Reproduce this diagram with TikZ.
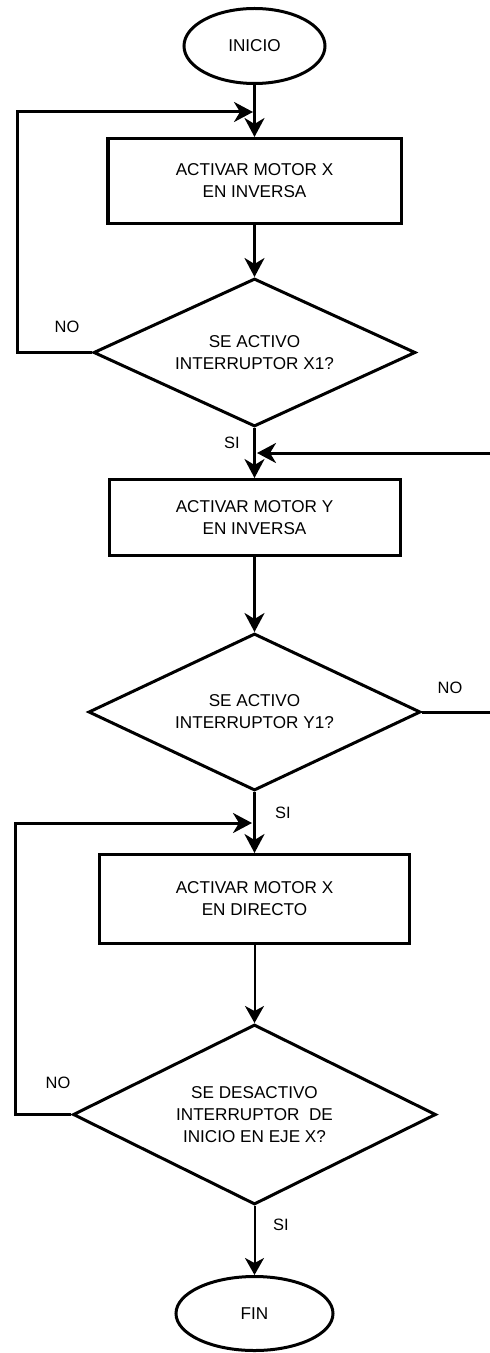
\documentclass[tikz,border=0pt]{standalone}
\usepackage{fontspec}
\setmainfont{Liberation Sans}
\usetikzlibrary{shapes.geometric,arrows.meta}
\begin{document}
\begin{tikzpicture}[x=1bp,y=-1bp,
  every node/.style={font=\fontsize{17.2}{22}\selectfont, align=center, inner sep=0pt},
  term/.style={ellipse, draw, line width=3bp},
  proc/.style={rectangle, draw, line width=3bp},
  test/.style={diamond, draw, line width=3bp},
  flow/.style={line width=3bp, -{Stealth[length=19bp,width=20bp,inset=6bp]}},
  thinflow/.style={line width=2bp, -{Stealth[length=17bp,width=19bp,inset=5bp]}},
  lbl/.style={font=\fontsize{16.5}{20}\selectfont}
]
\useasboundingbox[fill=white] (0,0) rectangle (490,1353);

% main column
\node[term, minimum width=141bp, minimum height=75bp] (inicio) at (254.5,46) {INICIO};
\node[proc, minimum width=293bp, minimum height=85bp] (r1) at (254.5,181) {ACTIVAR MOTOR X\\EN INVERSA};
\node[test, aspect=2.17, minimum width=322bp, minimum height=148bp] (d1) at (254.5,352.5) {SE ACTIVO\\INTERRUPTOR X1?};
\node[proc, minimum width=291bp, minimum height=76bp] (r2) at (254.5,517.5) {ACTIVAR MOTOR Y\\EN INVERSA};
\node[test, aspect=2.11, minimum width=332bp, minimum height=157bp] (d2) at (254.5,712) {SE ACTIVO\\INTERRUPTOR Y1?};
\node[proc, minimum width=310bp, minimum height=89bp] (r3) at (254.5,899) {ACTIVAR MOTOR X\\EN DIRECTO};
\node[test, aspect=2.02, minimum width=363bp, minimum height=180bp] (d3) at (254.5,1114.5) {SE DESACTIVO\\INTERRUPTOR\ \ DE\\INICIO EN EJE X?};
\node[term, minimum width=157bp, minimum height=74bp] (fin) at (254.5,1313.5) {FIN};

% forward flow
\draw[flow] (inicio) -- (r1);
\draw[flow] (r1) -- (d1);
\draw[flow] (d1) -- (r2);
\draw[flow] (r2) -- (d2);
\draw[flow] (d2) -- (r3);
\draw[thinflow] (r3) -- (d3);
\draw[thinflow] (d3) -- (fin);

% return paths
\coordinate (c1) at (17,112);
\coordinate (j1) at (253,112);
\draw[flow] (d1.west) -| (c1) -- (j1);

\coordinate (c2) at (494,453);
\coordinate (j2) at (257,453);
\draw[flow] (d2.east) -| (c2) -- (j2);

\coordinate (c3) at (15,823);
\coordinate (j3) at (252,823);
\draw[flow] (d3.west) -| (c3) -- (j3);

% branch labels
\node[lbl] (no1) at (67,327) {NO};
\node[lbl] (si1) at (232,443) {SI};
\node[lbl] (no2) at (450,688) {NO};
\node[lbl] (si2) at (283,813) {SI};
\node[lbl] (no3) at (58,1083) {NO};
\node[lbl] (si3) at (281,1225) {SI};
\end{tikzpicture}
\end{document}
